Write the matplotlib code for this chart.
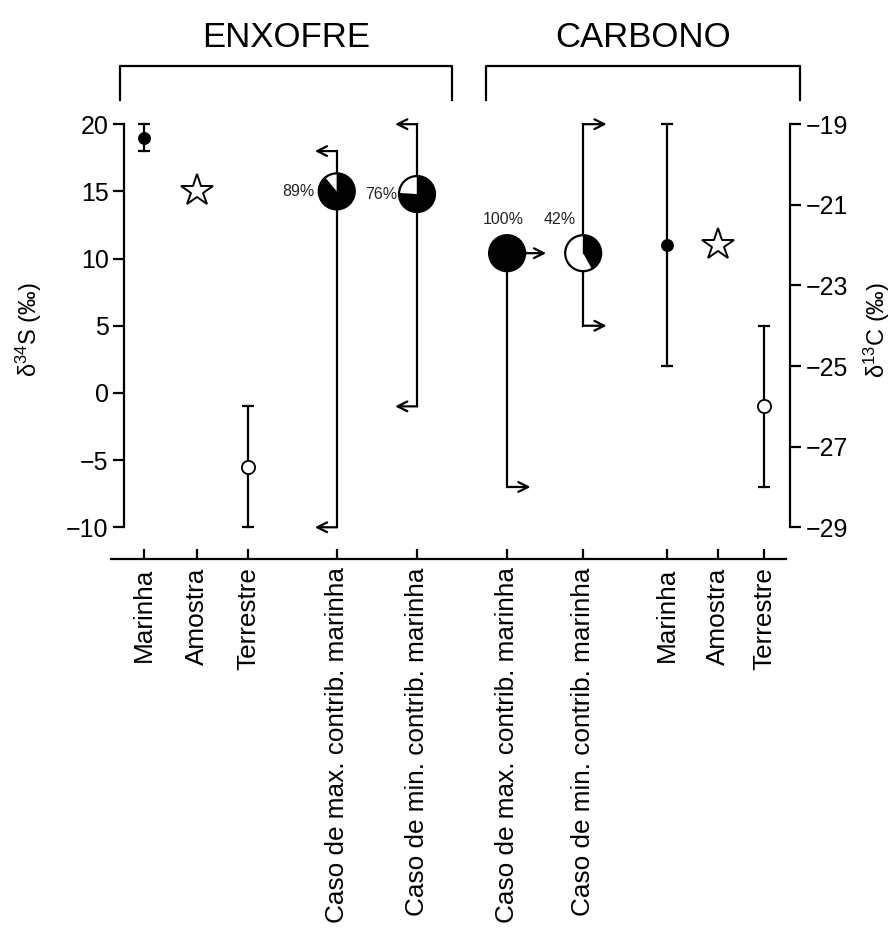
import matplotlib
matplotlib.use('Agg')
import matplotlib.pyplot as plt
import matplotlib.transforms as mtransforms
from matplotlib.patches import Wedge, Circle

plt.rcParams['font.family'] = ['Liberation Sans', 'DejaVu Sans']
plt.rcParams['mathtext.fontset'] = 'custom'
plt.rcParams['mathtext.rm'] = 'Liberation Sans'
plt.rcParams['mathtext.it'] = 'Liberation Sans:italic'

# --- data -------------------------------------------------------------
labels = ['Marinha', 'Amostra', 'Terrestre',
          'Caso de max. contrib. marinha', 'Caso de min. contrib. marinha',
          'Caso de max. contrib. marinha', 'Caso de min. contrib. marinha',
          'Marinha', 'Amostra', 'Terrestre']

# sulphur (delta 34S, permil)
s_marinha, s_marinha_rng = 19.0, (18.0, 20.0)
s_amostra = 15.0
s_terrestre, s_terrestre_rng = -5.5, (-10.0, -1.0)
s_max_pie, s_max_pct, s_max_rng = 15.0, 89, (-10.0, 18.0)
s_min_pie, s_min_pct, s_min_rng = 14.8, 76, (-1.0, 20.0)

# carbon (delta 13C, permil)
c_max_pie, c_max_pct, c_max_rng = -22.2, 100, (-28.0, -22.2)
c_min_pie, c_min_pct, c_min_rng = -22.2, 42, (-24.0, -19.0)
c_marinha, c_marinha_rng = -22.0, (-25.0, -19.0)
c_amostra = -22.0
c_terrestre, c_terrestre_rng = -26.0, (-28.0, -24.0)

s_ticks = [-10, -5, 0, 5, 10, 15, 20]
c_ticks = [-29, -27, -25, -23, -21, -19]

# --- layout -----------------------------------------------------------
xpos = [0, 1.02, 2.0, 3.7, 5.24, 6.97, 8.43, 10.04, 11.02, 11.9]
S_LIM = (-12.36, 21.8)


def s_to_c(s):
    return -19 + (s - 20) / 3.0


fig = plt.figure(figsize=(8.96, 9.35), dpi=100)
ax = fig.add_axes([124 / 896, 376 / 935, 666 / 896, 459 / 935])
ax.set_xlim(-0.384, 12.40)
ax.set_ylim(*S_LIM)
ax2 = ax.twinx()
ax2.set_ylim(s_to_c(S_LIM[0]), s_to_c(S_LIM[1]))

LW = 1.6


def errbar(a, x, y, rng, face):
    a.plot([x, x], rng, color='black', lw=LW, zorder=2)
    a.plot([x, x], rng, color='black', lw=0, marker='_', ms=9, mew=LW, zorder=2)
    a.plot(x, y, marker='o', ms=8 if face == 'black' else 9.5,
           mfc=face, mec='black', mew=1.3, zorder=3, ls='none')


def arrow(a, x0, y, x1):
    a.annotate('', xy=(x1, y), xytext=(x0, y),
               arrowprops=dict(arrowstyle='->,head_length=0.7,head_width=0.35',
                               lw=LW, color='black', shrinkA=0, shrinkB=0),
               zorder=2)


def pie(a, x, y, pct, r=0.18):
    # black share starts at 12 o'clock and runs clockwise
    trans = fig.dpi_scale_trans + mtransforms.ScaledTranslation(x, y, a.transData)
    a.add_patch(Circle((0, 0), r, facecolor='white', edgecolor='none',
                       transform=trans, zorder=4))
    if pct >= 100:
        a.add_patch(Circle((0, 0), r, facecolor='black', edgecolor='none',
                           transform=trans, zorder=5))
    else:
        a.add_patch(Wedge((0, 0), r, 90 - pct * 3.6, 90, facecolor='black',
                          edgecolor='none', transform=trans, zorder=5))
        a.plot([0, 0], [0, r], color='black', lw=1.0, transform=trans, zorder=6)
    a.add_patch(Circle((0, 0), r, facecolor='none', edgecolor='black',
                       lw=1.6, transform=trans, zorder=6))


def pct_label(a, x, y, pct, dx, dy, ha):
    a.annotate(f'{pct}%', xy=(x, y), xytext=(dx, dy), textcoords='offset points',
               ha=ha, va='center', fontsize=11.5, color='#222222')


# sulphur
errbar(ax, xpos[0], s_marinha, s_marinha_rng, 'black')
ax.plot(xpos[1], s_amostra, marker='*', ms=24, mfc='white', mec='black',
        mew=1.4, ls='none', zorder=3)
errbar(ax, xpos[2], s_terrestre, s_terrestre_rng, 'white')

for x, yp, pct, rng, dx in [(xpos[3], s_max_pie, s_max_pct, s_max_rng, -16),
                            (xpos[4], s_min_pie, s_min_pct, s_min_rng, -14)]:
    ax.plot([x, x], rng, color='black', lw=LW, zorder=2)
    arrow(ax, x, rng[0], x - 0.42)
    arrow(ax, x, rng[1], x - 0.42)
    pie(ax, x, yp, pct)
    pct_label(ax, x, yp, pct, dx, 0, 'right')

# carbon
x = xpos[5]
ax2.plot([x, x], c_max_rng, color='black', lw=LW, zorder=2)
arrow(ax2, x, c_max_rng[0], x + 0.45)
arrow(ax2, x, c_max_pie, x + 0.75)
pie(ax2, x, c_max_pie, c_max_pct)
pct_label(ax2, x, c_max_pie, c_max_pct, -3, 24, 'center')

x = xpos[6]
ax2.plot([x, x], c_min_rng, color='black', lw=LW, zorder=2)
arrow(ax2, x, c_min_rng[0], x + 0.45)
arrow(ax2, x, c_min_rng[1], x + 0.45)
pie(ax2, x, c_min_pie, c_min_pct)
pct_label(ax2, x, c_min_pie, c_min_pct, -17, 24, 'center')

errbar(ax2, xpos[7], c_marinha, c_marinha_rng, 'black')
ax2.plot(xpos[8], c_amostra, marker='*', ms=24, mfc='white', mec='black',
         mew=1.4, ls='none', zorder=3)
errbar(ax2, xpos[9], c_terrestre, c_terrestre_rng, 'white')

# --- axes styling -----------------------------------------------------
for a in (ax, ax2):
    a.spines['top'].set_visible(False)
ax.spines['right'].set_visible(False)
ax2.spines['left'].set_visible(False)
ax2.spines['bottom'].set_visible(False)
for sp in ('left', 'bottom'):
    ax.spines[sp].set_linewidth(LW)
ax2.spines['right'].set_linewidth(LW)
ax.spines['left'].set_bounds(-10, 20)
ax2.spines['right'].set_bounds(-29, -19)
ax.spines['bottom'].set_bounds(-0.63, 12.32)

ax.set_yticks(s_ticks)
ax.set_yticklabels([str(t).replace('-', '\u2212') for t in s_ticks])
ax2.set_yticks(c_ticks)
ax2.set_yticklabels([str(t).replace('-', '\u2212') for t in c_ticks])
ax.tick_params(axis='y', length=8, width=LW, labelsize=18, pad=3)
ax2.tick_params(axis='y', length=8, width=LW, labelsize=18, pad=3)

ax.set_xticks(xpos)
ax.set_xticklabels(labels, rotation=90, va='top', ha='center')
ax.tick_params(axis='x', direction='in', length=7, width=LW, labelsize=18.8, pad=6)

ax.set_ylabel('δ$^{34}$S (‰)', fontsize=17, labelpad=16)
ax2.set_ylabel('δ$^{13}$C (‰)', fontsize=17, labelpad=10)

# brackets and group titles
for x0, x1, title in [(-0.46, 5.91, 'ENXOFRE'), (6.56, 12.59, 'CARBONO')]:
    ax.plot([x0, x0, x1, x1], [21.8, 24.3, 24.3, 21.8], color='black',
            lw=LW, clip_on=False)
    ax.text((x0 + x1) / 2, 25.2, title, ha='center', va='bottom', fontsize=25)

fig.savefig('out.png', dpi=100)
